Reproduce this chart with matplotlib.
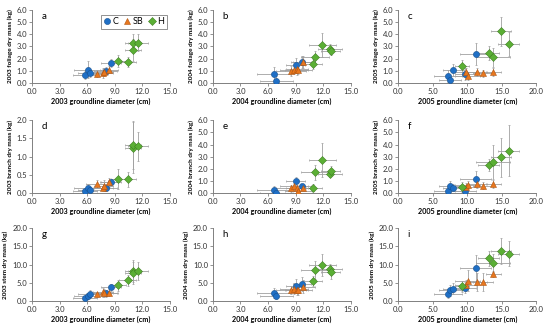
import matplotlib
matplotlib.use("Agg")
import matplotlib.pyplot as plt

plt.rcParams['font.family'] = ['Lato', 'DejaVu Sans']

# groundline diameter (cm) per year: mean and sd, per treatment
d2003 = {"C": [5.8, 6.1, 6.3, 8.0, 8.6], "SB": [7.1, 7.7, 7.8, 8.4], "H": [9.4, 10.4, 11.0, 11.0, 11.5]}
d2003_sd = {"C": [1.3, 1.5, 1.3, 1.2, 1.1], "SB": [1.2, 1.1, 1.0, 1.0], "H": [0.8, 0.9, 0.9, 0.9, 1.1]}
d2004 = {"C": [6.6, 6.9, 9.0, 9.7], "SB": [8.5, 8.8, 9.1, 9.3, 9.8], "H": [10.9, 11.1, 11.9, 12.7, 12.8]}
d2004_sd = {"C": [1.8, 1.8, 1.0, 1.0], "SB": [1.6, 1.5, 1.2, 1.5, 1.3], "H": [1.0, 1.5, 1.5, 1.3, 1.0]}
d2005 = {"C": [7.2, 7.5, 8.0, 9.7, 11.2], "SB": [9.8, 10.1, 11.4, 12.3, 13.8], "H": [9.2, 13.1, 13.7, 14.9, 16.0]}
d2005_sd = {"C": [2.0, 1.6, 1.5, 1.5, 2.3], "SB": [1.5, 1.8, 1.5, 1.5, 1.1], "H": [1.0, 1.5, 2.5, 1.5, 1.5]}

# dry mass (kg): mean and sd
fol2003 = {"C": [0.65, 1.1, 0.8, 1.0, 1.65], "SB": [0.75, 0.8, 0.9, 1.1], "H": [1.8, 1.7, 2.7, 3.3, 3.3]}
fol2003_sd = {"C": [0.3, 0.7, 0.3, 0.3, 0.3], "SB": [0.3, 0.4, 0.3, 0.3], "H": [0.5, 0.4, 0.9, 0.7, 0.7]}
fol2004 = {"C": [0.75, 0.15, 1.45, 1.7], "SB": [1.0, 1.1, 1.15, 1.1, 1.75], "H": [1.55, 2.15, 3.1, 2.8, 2.6]}
fol2004_sd = {"C": [0.6, 0.4, 0.6, 0.5], "SB": [0.4, 0.4, 0.5, 0.4, 0.5], "H": [0.4, 0.5, 1.0, 0.4, 0.3]}
fol2005 = {"C": [0.6, 0.25, 1.05, 0.7, 2.35], "SB": [0.9, 0.55, 0.9, 0.8, 0.9], "H": [1.4, 2.45, 2.1, 4.25, 3.2]}
fol2005_sd = {"C": [0.5, 0.3, 0.5, 0.5, 0.9], "SB": [0.3, 0.3, 0.3, 0.3, 0.3], "H": [0.5, 0.6, 0.8, 1.2, 1.0]}

br2003 = {"C": [0.05, 0.15, 0.08, 0.15, 0.3], "SB": [0.25, 0.15, 0.2, 0.3], "H": [0.38, 0.38, 1.25, 1.32, 1.28]}
br2003_sd = {"C": [0.05, 0.1, 0.05, 0.1, 0.1], "SB": [0.1, 0.1, 0.15, 0.12], "H": [0.28, 0.2, 0.7, 0.65, 0.4]}
br2004 = {"C": [0.25, 0.05, 1.0, 0.55], "SB": [0.4, 0.55, 0.4, 0.15, 0.4], "H": [0.45, 1.7, 2.7, 1.6, 1.85]}
br2004_sd = {"C": [0.3, 0.1, 0.3, 0.2], "SB": [0.3, 0.3, 0.3, 0.2, 0.2], "H": [0.3, 0.6, 1.4, 0.3, 0.4]}
br2005 = {"C": [0.2, 0.6, 0.45, 0.2, 1.2], "SB": [0.5, 0.7, 0.75, 0.6, 0.75], "H": [0.5, 2.3, 2.6, 2.95, 3.5]}
br2005_sd = {"C": [0.3, 0.4, 0.3, 0.3, 0.6], "SB": [0.3, 0.3, 0.3, 0.3, 0.3], "H": [0.4, 0.5, 1.4, 1.6, 2.1]}

st2003 = {"C": [0.8, 1.3, 2.0, 2.1, 3.8], "SB": [1.8, 2.4, 2.2, 2.3], "H": [4.3, 5.7, 8.2, 7.8, 8.3]}
st2003_sd = {"C": [0.5, 0.8, 1.0, 1.0, 1.0], "SB": [0.8, 1.2, 1.0, 1.0], "H": [1.5, 1.5, 3.0, 3.0, 2.5]}
st2004 = {"C": [2.2, 1.5, 4.1, 4.7], "SB": [3.0, 3.4, 3.0, 3.0, 3.9], "H": [5.5, 8.5, 10.0, 8.8, 8.0]}
st2004_sd = {"C": [1.4, 1.0, 2.0, 2.0], "SB": [1.0, 1.5, 1.3, 1.3, 1.8], "H": [1.5, 2.5, 3.0, 1.3, 2.0]}
st2005 = {"C": [1.8, 3.0, 3.4, 3.7, 9.1], "SB": [4.3, 5.6, 5.2, 5.3, 7.4], "H": [4.0, 11.7, 10.5, 13.7, 13.0]}
st2005_sd = {"C": [1.0, 1.5, 1.5, 1.5, 3.5], "SB": [1.5, 2.8, 2.5, 2.5, 0.7], "H": [1.5, 2.0, 2.5, 3.5, 3.5]}

groups = ["C", "SB", "H"]
marker = {"C": "o", "SB": "^", "H": "D"}
face = {"C": "#1F6FC5", "SB": "#E8771E", "H": "#5BAF35"}
edge = {"C": "#17508F", "SB": "#B05510", "H": "#3E7E22"}
msize = {"C": 4.4, "SB": 4.4, "H": 3.6}

years = ["2003", "2004", "2005"]
diam = [(d2003, d2003_sd), (d2004, d2004_sd), (d2005, d2005_sd)]
rows = [
    ("foliage", [(fol2003, fol2003_sd), (fol2004, fol2004_sd), (fol2005, fol2005_sd)]),
    ("branch", [(br2003, br2003_sd), (br2004, br2004_sd), (br2005, br2005_sd)]),
    ("stem", [(st2003, st2003_sd), (st2004, st2004_sd), (st2005, st2005_sd)]),
]
ylims = [[6, 6, 6], [2, 6, 6], [20, 20, 20]]
yticks = [[[0, 1, 2, 3, 4, 5, 6]] * 3,
          [[0, 0.5, 1.0, 1.5, 2.0], [0, 1, 2, 3, 4, 5, 6], [0, 1, 2, 3, 4, 5, 6]],
          [[0, 5, 10, 15, 20]] * 3]
xmax = [15, 15, 20]
xticks = [[0, 3, 6, 9, 12, 15], [0, 3, 6, 9, 12, 15], [0, 5, 10, 15, 20]]
letters = "abcdefghi"

lefts = [0.058, 0.387, 0.724]
bottoms = [0.751, 0.420, 0.096]
w, h = 0.251, 0.219

fig = plt.figure(figsize=(5.5, 3.33), dpi=100)
for r, (part, data) in enumerate(rows):
    for c in range(3):
        ax = fig.add_axes([lefts[c], bottoms[r], w, h])
        xd, xsd = diam[c]
        yd, ysd = data[c]
        for g in groups:
            ax.errorbar(xd[g], yd[g], xerr=xsd[g], yerr=ysd[g], fmt="none",
                        ecolor="#A0A0A0", elinewidth=0.6, capsize=1, capthick=0.5, zorder=1)
        for g in groups:
            ax.plot(xd[g], yd[g], linestyle="none", marker=marker[g], ms=msize[g],
                    mfc=face[g], mec=edge[g], mew=0.4, label=g, zorder=3)
        ax.set_xlim(0, xmax[c])
        ax.set_ylim(0, ylims[r][c])
        ax.set_xticks(xticks[c])
        ax.set_yticks(yticks[r][c])
        ax.set_xticklabels([f"{v:.1f}" for v in xticks[c]])
        ax.set_yticklabels([f"{v:.1f}" for v in yticks[r][c]])
        ax.tick_params(labelsize=5.5, length=2, width=0.6, color="#808080",
                       pad=1.5, labelcolor="#333333")
        for s in ["top", "right"]:
            ax.spines[s].set_visible(False)
        for s in ["left", "bottom"]:
            ax.spines[s].set_color("#808080")
            ax.spines[s].set_linewidth(0.7)
        ax.set_xlabel(f"{years[c]} groundline diameter (cm)", fontsize=5.2,
                      fontweight="bold", labelpad=2)
        ax.set_ylabel(f"{years[c]} {part} dry mass (kg)", fontsize=4.6,
                      fontweight="bold", labelpad=2.5)
        ax.text(0.07, 0.97, letters[r * 3 + c], transform=ax.transAxes,
                fontsize=7, va="top", ha="left")
        if r == 0 and c == 0:
            leg = ax.legend(loc="upper right", ncol=3, fontsize=6.5, frameon=True,
                            handlelength=0.7, handletextpad=0.25, columnspacing=0.6,
                            borderpad=0.3, fancybox=False, edgecolor="#808080",
                            framealpha=1, bbox_to_anchor=(1.01, 1.0))
            leg.get_frame().set_linewidth(0.6)

fig.savefig("out.png", dpi=100)
